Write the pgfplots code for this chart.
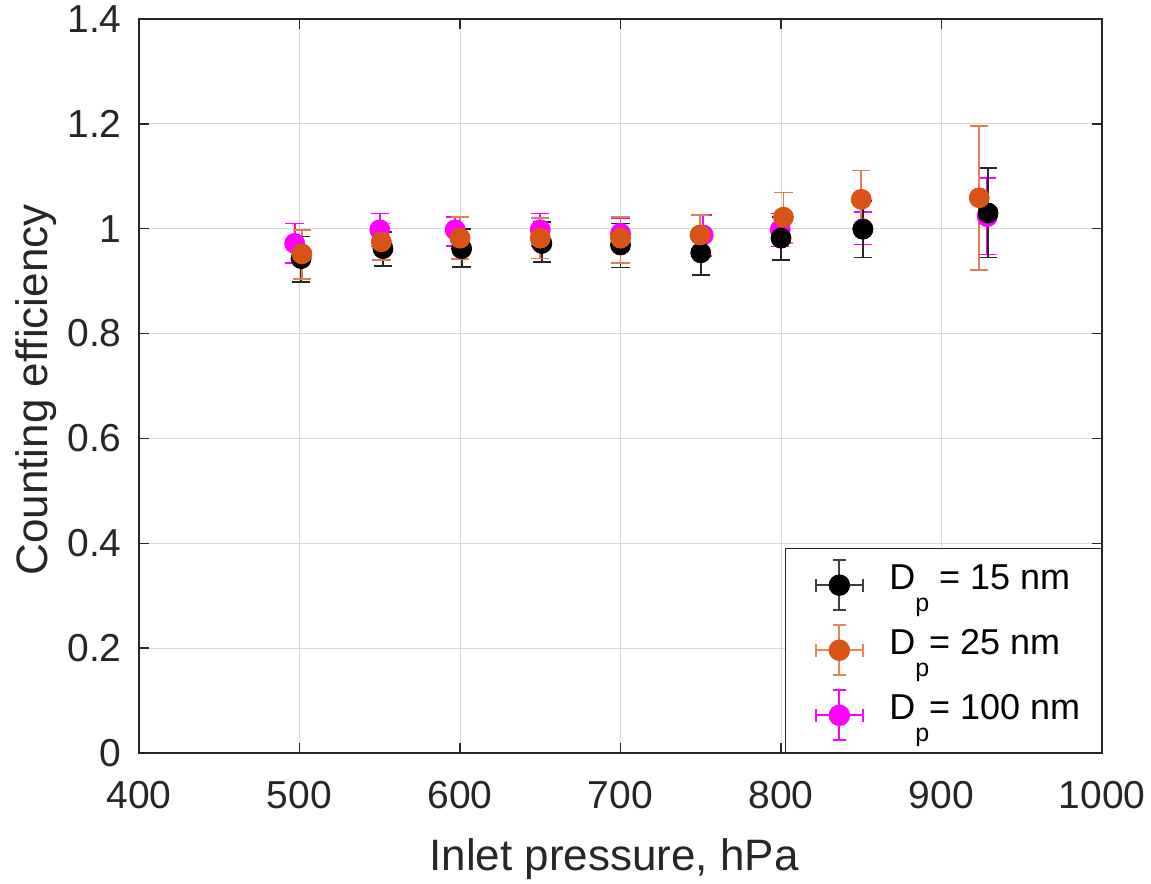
\documentclass[border=0pt]{standalone}
\usepackage{pgfplots}
\pgfplotsset{compat=1.18}
\usepackage{pgfplotstable}
\usepackage{fontspec}
\setmainfont{Liberation Sans}
\definecolor{morange}{rgb}{0.85,0.325,0.098}
\definecolor{mmag}{rgb}{1,0,1}
\definecolor{axgray}{rgb}{0.15,0.15,0.15}

\pgfplotstableread{
x y ep em
501 0.943 0.042 0.044
552 0.962 0.032 0.033
601 0.962 0.038 0.035
651 0.972 0.041 0.035
700 0.969 0.041 0.043
750 0.954 0.042 0.042
800 0.982 0.041 0.041
851 0.999 0.054 0.054
929 1.030 0.086 0.085
}\blackdata

\pgfplotstableread{
x y ep em
501.5 0.952 0.046 0.048
551 0.975 0.035 0.035
600 0.982 0.041 0.040
650 0.982 0.038 0.039
700 0.982 0.041 0.047
749.5 0.988 0.038 0.035
801.5 1.022 0.047 0.049
850 1.056 0.055 0.055
923.5 1.059 0.137 0.138
}\orangedata

\pgfplotstableread{
x y ep em
497 0.972 0.038 0.038
550 0.998 0.031 0.032
597 0.998 0.025 0.031
650 0.998 0.031 0.031
700 0.991 0.030 0.030
751.5 0.988 0.038 0.040
799.5 0.998 0.031 0.032
851 1.000 0.032 0.030
928.5 1.023 0.073 0.072
}\pinkdata

\pgfplotsset{
  errleg/.style 2 args={legend image code/.code={
    \path (-21.5pt,0pt);
    \draw[#2, line width=0.9pt] (-11.75pt,0pt) -- (11.75pt,0pt);
    \draw[#2, line width=0.9pt] (0pt,-12.5pt) -- (0pt,12.5pt);
    \draw[#2, line width=0.9pt] (-11.75pt,-3.3pt) -- (-11.75pt,3.3pt);
    \draw[#2, line width=0.9pt] (11.75pt,-3.3pt) -- (11.75pt,3.3pt);
    \draw[#2, line width=0.9pt] (-3.3pt,12.5pt) -- (3.3pt,12.5pt);
    \draw[#2, line width=0.9pt] (-3.3pt,-12.5pt) -- (3.3pt,-12.5pt);
    \fill[#1] (0pt,0pt) circle (5pt);
  }},
  errplot/.style 2 args={only marks, mark=*, mark size=5pt,
    mark options={draw=#1, fill=#1}, color=#1,
    error bars/.cd, y dir=both, y explicit,
    error bar style={line width=0.9pt, #2},
    error mark options={rotate=90, mark size=4.6pt, line width=0.9pt, #2},
    /pgfplots/.cd},
}

\newcommand{\Dp}{D\raisebox{-11pt}{\fontsize{12.5}{12.5}\selectfont p}}
\newcommand{\lent}[1]{\raisebox{6.5pt}{#1}}

\begin{document}
\begin{tikzpicture}
\begin{axis}[
  scale only axis,
  width=481.5pt, height=367pt,
  xmin=400, xmax=1000, ymin=0, ymax=1.4,
  xtick={400,500,600,700,800,900,1000},
  ytick={0,0.2,0.4,0.6,0.8,1,1.2,1.4},
  /pgf/number format/1000 sep={},
  /pgf/number format/assume math mode=true,
  tick label style={font=\fontsize{19.5}{23}\selectfont, text=axgray},
  x tick label style={anchor=base, yshift=-27.5pt},
  y tick label style={anchor=east, inner sep=0pt, xshift=-8.5pt},
  tick align=inside,
  major tick length=5pt,
  tick style={axgray, line width=0.75pt},
  axis line style={axgray, line width=0.75pt},
  grid=major,
  grid style={black!15, line width=0.5pt},
  xlabel={Inlet pressure, hPa},
  ylabel={Counting efficiency},
  every axis x label/.style={at={(axis description cs:0.4933,-0.1594)}, anchor=base, font=\fontsize{22}{26}\selectfont, text=axgray},
  every axis y label/.style={at={(axis description cs:-0.0955,0.4946)}, rotate=90, anchor=base, font=\fontsize{22}{26}\selectfont, text=axgray},
  legend style={at={(1,0)}, anchor=south east, draw=axgray, line width=0.75pt,
    font=\fontsize{18}{21}\selectfont, inner xsep=5pt, inner ysep=5.5pt,
    row sep=6.65pt, column sep=10.75pt, fill=white},
  legend cell align=left,
]
\addplot[forget plot, errplot={mmag}{mmag}]
  table[x=x, y=y, y error plus=ep, y error minus=em] {\pinkdata};
\addplot[errleg={black}{black!75}, errplot={black}{black!85}]
  table[x=x, y=y, y error plus=ep, y error minus=em] {\blackdata};
\addlegendentry{\lent{\Dp\ = 15 nm}}
\addplot[errleg={morange}{morange!70!white}, errplot={morange}{morange!75!white}]
  table[x=x, y=y, y error plus=ep, y error minus=em] {\orangedata};
\addlegendentry{\lent{\Dp= 25 nm}}
\addlegendimage{errleg={mmag}{mmag}}
\addlegendentry{\lent{\Dp= 100 nm\hspace{3.5pt}}}
\end{axis}
\pgfresetboundingbox
\path ([shift={(-69.5pt,-65pt)}]current axis.south west) rectangle ([shift={(24.5pt,9.5pt)}]current axis.north east);
\end{tikzpicture}
\end{document}
